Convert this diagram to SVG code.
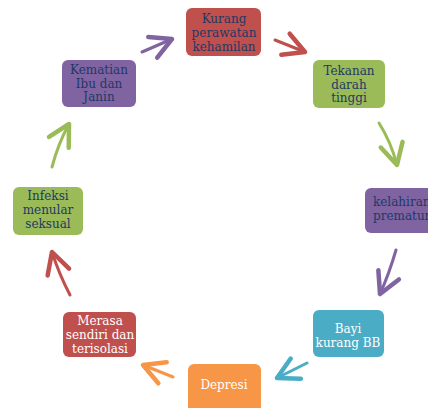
<svg xmlns="http://www.w3.org/2000/svg" width="428" height="408" viewBox="0 0 428 408">
<style>
.box{stroke:none}
.t{font-family:"DejaVu Serif","Liberation Serif",serif;font-size:12px;text-anchor:middle}
.s{text-anchor:start}
.dk{fill:#1f3864}
.wh{fill:#ffffff}
.ar{fill:none;stroke-width:3;stroke-linecap:round;stroke-linejoin:round}
</style>
<defs>
<marker id="mP" markerUnits="userSpaceOnUse" orient="auto" markerWidth="30" markerHeight="30" refX="0" refY="0" viewBox="-16 -10 20 20" overflow="visible"><path d="M-14,-7.5 L0,0 L-14,7.5" fill="none" stroke="#8064a2" stroke-width="3" stroke-linecap="round" stroke-linejoin="round"/></marker>
<marker id="mR" markerUnits="userSpaceOnUse" orient="auto" markerWidth="30" markerHeight="30" refX="0" refY="0" viewBox="-16 -10 20 20" overflow="visible"><path d="M-14,-7.5 L0,0 L-14,7.5" fill="none" stroke="#c0504d" stroke-width="3" stroke-linecap="round" stroke-linejoin="round"/></marker>
<marker id="mG" markerUnits="userSpaceOnUse" orient="auto" markerWidth="30" markerHeight="30" refX="0" refY="0" viewBox="-16 -10 20 20" overflow="visible"><path d="M-14,-7.5 L0,0 L-14,7.5" fill="none" stroke="#9bbb59" stroke-width="3" stroke-linecap="round" stroke-linejoin="round"/></marker>
<marker id="mB" markerUnits="userSpaceOnUse" orient="auto" markerWidth="30" markerHeight="30" refX="0" refY="0" viewBox="-16 -10 20 20" overflow="visible"><path d="M-14,-7.5 L0,0 L-14,7.5" fill="none" stroke="#4bacc6" stroke-width="3" stroke-linecap="round" stroke-linejoin="round"/></marker>
<marker id="mO" markerUnits="userSpaceOnUse" orient="auto" markerWidth="30" markerHeight="30" refX="0" refY="0" viewBox="-16 -10 20 20" overflow="visible"><path d="M-14,-7.5 L0,0 L-14,7.5" fill="none" stroke="#f79646" stroke-width="3" stroke-linecap="round" stroke-linejoin="round"/></marker>
</defs>
<rect width="428" height="408" fill="#ffffff"/>
<g id="connectors">
<path class="ar" stroke="#8064a2" marker-end="url(#mP)" d="M142,52 L172,39"/>
<path class="ar" stroke="#c0504d" marker-end="url(#mR)" d="M275,40 L305,52"/>
<path class="ar" stroke="#9bbb59" marker-end="url(#mG)" d="M379,123 Q391,142 397,165"/>
<path class="ar" stroke="#8064a2" marker-end="url(#mP)" d="M396,250 Q389,274 380,294"/>
<path class="ar" stroke="#4bacc6" marker-end="url(#mB)" d="M307,363 L277,378"/>
<path class="ar" stroke="#f79646" marker-end="url(#mO)" d="M173,377 L143,365"/>
<path class="ar" stroke="#c0504d" marker-end="url(#mR)" d="M70,295 Q59,274 52,252"/>
<path class="ar" stroke="#9bbb59" marker-end="url(#mG)" d="M52,167 Q58,144 69,124"/>
</g>
<g id="kurang">
<rect class="box" x="186" y="8" width="75" height="48" rx="6" fill="#c0504d"/>
<text class="t dk" x="224" y="23">Kurang</text>
<text class="t dk" x="224" y="37">perawatan</text>
<text class="t dk" x="224" y="51">kehamilan</text>
</g>
<g id="tekanan">
<rect class="box" x="313" y="60" width="72" height="48" rx="6" fill="#9bbb59"/>
<text class="t dk" x="349" y="75">Tekanan</text>
<text class="t dk" x="349" y="89">darah</text>
<text class="t dk" x="349" y="102">tinggi</text>
</g>
<g id="kelahiran">
<rect class="box" x="365" y="188" width="80" height="45" rx="6" fill="#8064a2"/>
<text class="t s dk" x="373" y="206">kelahiran</text>
<text class="t s dk" x="373" y="220">prematur</text>
</g>
<g id="bayi">
<rect class="box" x="313" y="310" width="71" height="47" rx="6" fill="#4bacc6"/>
<text class="t wh" x="348" y="333">Bayi</text>
<text class="t wh" x="348" y="347">kurang BB</text>
</g>
<g id="depresi">
<rect class="box" x="188" y="364" width="73" height="50" rx="6" fill="#f79646"/>
<text class="t wh" x="224" y="389">Depresi</text>
</g>
<g id="merasa">
<rect class="box" x="63" y="312" width="73" height="45" rx="6" fill="#c0504d"/>
<text class="t wh" x="100" y="325">Merasa</text>
<text class="t wh" x="100" y="339">sendiri dan</text>
<text class="t wh" x="100" y="353">terisolasi</text>
</g>
<g id="infeksi">
<rect class="box" x="13" y="187" width="70" height="48" rx="6" fill="#9bbb59"/>
<text class="t dk" x="48" y="200">Infeksi</text>
<text class="t dk" x="48" y="214">menular</text>
<text class="t dk" x="48" y="228">seksual</text>
</g>
<g id="kematian">
<rect class="box" x="62" y="60" width="74" height="47" rx="6" fill="#8064a2"/>
<text class="t dk" x="99" y="74">Kematian</text>
<text class="t dk" x="99" y="88">Ibu dan</text>
<text class="t dk" x="99" y="101">Janin</text>
</g>
</svg>
